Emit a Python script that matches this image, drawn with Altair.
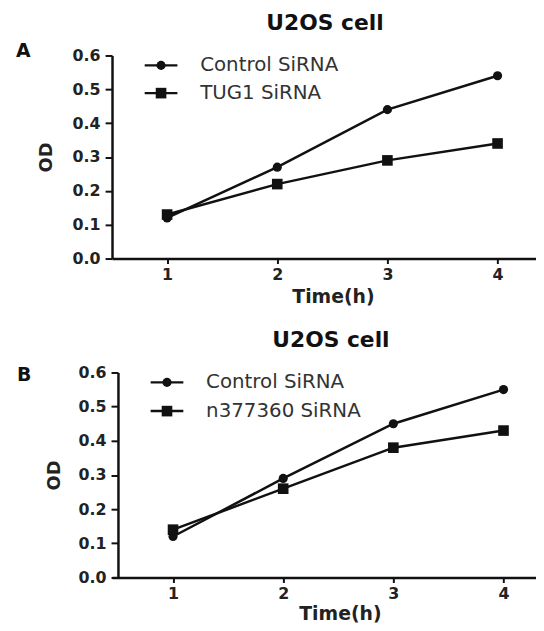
import altair as alt
import pandas as pd

# ---------------- data ----------------
times = [1, 2, 3, 4]

a_series = ["Control SiRNA", "TUG1 SiRNA"]
a_control = [0.12, 0.27, 0.44, 0.54]
a_tug1 = [0.13, 0.22, 0.29, 0.34]

b_series = ["Control SiRNA", "n377360 SiRNA"]
b_control = [0.12, 0.29, 0.45, 0.55]
b_n377360 = [0.14, 0.26, 0.38, 0.43]

kinds = ["control", "knockdown"]
y_ticks = [0.0, 0.1, 0.2, 0.3, 0.4, 0.5, 0.6]
panel_title = "U2OS cell"
panel_letters = ["A", "B"]
x_title = "Time(h)"
y_title = "OD"

FONT = "DejaVu Sans"
INK = "#111111"
TXT = "#222222"

shape_scale = alt.Scale(domain=kinds, range=["circle", "square"])
size_scale = alt.Scale(domain=kinds, range=[85, 115])


def make_df(names, vals):
    rows = []
    for k, name, v in zip(kinds, names, vals):
        for t, y in zip(times, v):
            rows.append({"time": t, "od": y, "series": name, "kind": k})
    return pd.DataFrame(rows)


def panel(names, vals, letter, W, H, xdom, yoff, letter_x, letter_y,
          ytitle_x, xtitle_x, xtitle_y, legend_y, anchor=False):
    df = make_df(names, vals)
    xs = alt.Scale(domain=xdom, nice=False, zero=False)
    ys = alt.Scale(domain=[0, 0.6], nice=False, zero=True)
    dx = -yoff  # horizontal shift of everything drawn relative to y axis

    x_axis = alt.Axis(values=times, format="d", tickSize=5, tickWidth=2,
                      tickColor=INK, domainColor=INK, domainWidth=2.5,
                      labelPadding=3, labelFontSize=16, labelFontWeight="bold",
                      labelColor=TXT, labelFont=FONT, grid=False,
                      labelOverlap=False,
                      title=x_title, titleX=xtitle_x, titleY=xtitle_y,
                      titleBaseline="alphabetic", titleAlign="center",
                      titleFontSize=19, titleFontWeight="bold",
                      titleColor=TXT, titleFont=FONT)
    y_axis = alt.Axis(values=y_ticks, format=".1f", tickSize=7, tickWidth=2,
                      tickColor=INK, domainColor=INK, domainWidth=2.5,
                      offset=yoff, labelOverlap=False, labelFlush=False,
                      labelPadding=5, labelFontSize=16, labelFontWeight="bold",
                      labelColor=TXT, labelFont=FONT, grid=False,
                      title=y_title, titleX=ytitle_x, titleY=H / 2,
                      titleAngle=270, titleBaseline="middle",
                      titleAlign="center", titleFontSize=18,
                      titleFontWeight="bold", titleColor=TXT, titleFont=FONT)

    X = alt.X("time:Q", scale=xs, axis=x_axis)
    Y = alt.Y("od:Q", scale=ys, axis=y_axis)

    base = alt.Chart(df)
    lines = base.mark_line(color=INK, strokeWidth=2.5).encode(
        x=X, y=Y, detail="series:N",
    )
    pts = base.mark_point(filled=True, color=INK, opacity=1).encode(
        x=X, y=Y,
        shape=alt.Shape("kind:N", scale=shape_scale, legend=None),
        size=alt.Size("kind:N", scale=size_scale, legend=None),
    )

    # manual legend inside the plot (pixel positions)
    leg_df = pd.DataFrame({"series": names, "kind": kinds,
                           "ly": [legend_y[0], legend_y[1]]})
    leg = alt.Chart(leg_df)
    leg_line = leg.mark_rule(color=INK, strokeWidth=2.5).encode(
        x=alt.value(33 + dx), x2=alt.value(66 + dx),
        y=alt.Y("ly:Q", scale=None),
    )
    leg_pts = leg.mark_point(filled=True, color=INK, opacity=1).encode(
        x=alt.value(49.5 + dx),
        y=alt.Y("ly:Q", scale=None),
        shape=alt.Shape("kind:N", scale=shape_scale, legend=None),
        size=alt.Size("kind:N", scale=size_scale, legend=None),
    )
    leg_txt = leg.mark_text(align="left", baseline="middle", font=FONT,
                            fontSize=20, color="#333333").encode(
        x=alt.value(89 + dx),
        y=alt.Y("ly:Q", scale=None),
        text="series:N",
    )

    ttl = alt.Chart(pd.DataFrame({"t": [panel_title]})).mark_text(
        align="center", baseline="alphabetic", font=FONT, fontSize=22,
        fontWeight="bold", color=INK).encode(
        x=alt.value(215 + dx), y=alt.value(-26), text="t:N")
    let = alt.Chart(pd.DataFrame({"t": [letter]})).mark_text(
        align="left", baseline="alphabetic", font=FONT, fontSize=19,
        fontWeight="bold", color=INK).encode(
        x=alt.value(letter_x), y=alt.value(letter_y), text="t:N")

    layers = [lines, pts, leg_line, leg_pts, leg_txt, ttl, let]
    if anchor:
        # invisible anchor fixing the top-left extent of the whole figure
        anc = alt.Chart(pd.DataFrame({"t": [0]})).mark_rule(
            opacity=0, strokeWidth=1).encode(
            x=alt.value(-104.5), x2=alt.value(-104.5),
            y=alt.value(-44.5), y2=alt.value(-44.5))
        layers.append(anc)
    return alt.layer(*layers).properties(width=W, height=H)


chart_a = panel(a_series, [a_control, a_tug1], panel_letters[0],
                W=428, H=205, xdom=[0.5, 4.349], yoff=0,
                letter_x=-97, letter_y=2, ytitle_x=-66,
                xtitle_x=223, xtitle_y=44, legend_y=[10, 38], anchor=True)
chart_b = panel(b_series, [b_control, b_n377360], panel_letters[1],
                W=428, H=207, xdom=[0.446, 4.295], yoff=-6,
                letter_x=-96, letter_y=9, ytitle_x=-64,
                xtitle_x=230, xtitle_y=42, legend_y=[10, 39])

chart = alt.concat(chart_a, chart_b, columns=1, spacing=115,
                   bounds="flush").configure(
    padding={"left": 0, "top": 0, "right": 0, "bottom": 0},
    background="white",
).configure_view(strokeWidth=0)

chart.save("out.html", embed_options={"renderer": "svg", "actions": False})
